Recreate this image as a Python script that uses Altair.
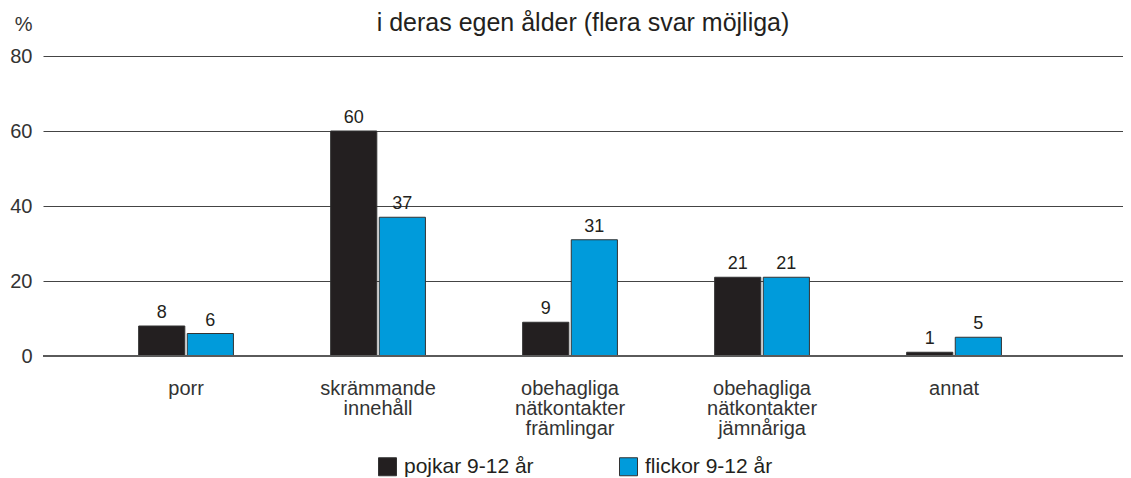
import altair as alt
import pandas as pd

categories = ["porr", "skrämmande innehåll", "obehagliga nätkontakter främlingar",
              "obehagliga nätkontakter jämnåriga", "annat"]
series = ["pojkar 9-12 år", "flickor 9-12 år"]
pojkar = [8, 60, 9, 21, 1]
flickor = [6, 37, 31, 21, 5]
y_ticks = [0, 20, 40, 60, 80]
title_text = "i deras egen ålder (flera svar möjliga)"

rows = []
for c, p, f in zip(categories, pojkar, flickor):
    rows.append({"kategori": c, "grupp": series[0], "värde": p})
    rows.append({"kategori": c, "grupp": series[1], "värde": f})
df = pd.DataFrame(rows)

FONT = "Liberation Sans"

x_enc = alt.X("kategori:N", sort=categories,
              scale=alt.Scale(paddingInner=0, paddingOuter=0.3125, align=0.392),
              axis=alt.Axis(title=None, labelAngle=0, domain=False, ticks=False,
                            labelPadding=22, labelFontSize=20, labelColor="#333333",
                            labelLineHeight=20, labelExpr="split(datum.label, ' ')",
                            labelFont=FONT))
xoff_enc = alt.XOffset("grupp:N", sort=series,
                       scale=alt.Scale(domain=series, paddingInner=0.05, paddingOuter=1))
y_enc = alt.Y("värde:Q",
              scale=alt.Scale(domain=[0, 80], nice=False),
              axis=alt.Axis(values=y_ticks, title="%", titleAngle=0, titleAlign="right",
                            titleBaseline="alphabetic", titleX=-11, titleY=-26,
                            titleFontSize=20, titleFontWeight="normal", titleColor="#333333",
                            titleFont=FONT,
                            domain=False, ticks=False, labelPadding=11, labelFontSize=20,
                            labelColor="#333333", labelFont=FONT,
                            grid=True, gridColor="#444444", gridWidth=1))

bars = alt.Chart(df).mark_bar(stroke="#333333", strokeWidth=1).encode(
    x=x_enc,
    xOffset=xoff_enc,
    y=y_enc,
    color=alt.Color("grupp:N", sort=series,
                    scale=alt.Scale(domain=series, range=["#231f20", "#009bdb"]),
                    legend=alt.Legend(title=None, orient="none", direction="horizontal",
                                      legendX=334, legendY=400,
                                      symbolType="square", symbolSize=324,
                                      symbolStrokeColor="#333333", symbolStrokeWidth=1,
                                      labelFontSize=21, labelColor="#231f20", labelFont=FONT,
                                      labelOffset=6, columnPadding=83)),
)

labels = alt.Chart(df).mark_text(baseline="alphabetic", dy=-8, fontSize=18,
                                 color="#231f20", font=FONT).encode(
    x=alt.X("kategori:N", sort=categories),
    xOffset=alt.XOffset("grupp:N", sort=series),
    y=alt.Y("värde:Q"),
    text=alt.Text("värde:Q"),
)

base_rule = alt.Chart(df).mark_rule(color="#5a5a5a", strokeWidth=2).encode(
    y=alt.datum(0),
)

chart = alt.layer(bars, labels, base_rule).properties(
    width=1080, height=300,
    autosize=alt.AutoSizeParams(type="none"),
    padding={"left": 35, "top": 48, "right": 0, "bottom": 122},
    title=alt.TitleParams(title_text, fontSize=25, fontWeight="normal", color="#231f20",
                          font=FONT, anchor="middle", offset=0, dy=22),
).configure_view(stroke=None)

chart.save("out.html", embed_options={"renderer": "svg", "actions": False})
